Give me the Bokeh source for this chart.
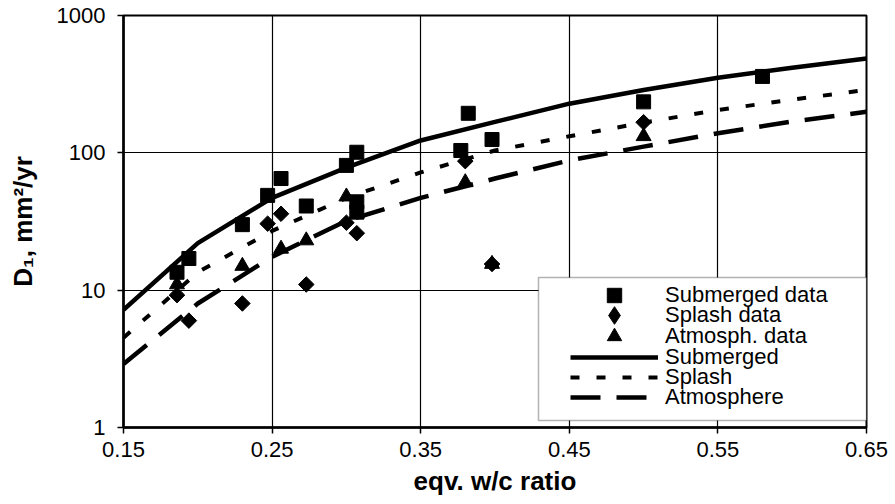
from bokeh.plotting import figure
from bokeh.models import (Range1d, FixedTicker, Legend, LegendItem, BoxAnnotation)
from bokeh.embed import file_html
from bokeh.resources import INLINE
import math

# ---- data ----
wc_curve = [0.15, 0.20, 0.25, 0.30, 0.35, 0.40, 0.45, 0.50, 0.55, 0.60, 0.65]
submerged_curve = [7.2, 22, 47, 78, 123, 168, 228, 287, 352, 417, 487]
splash_curve = [4.5, 13.5, 27, 47, 72, 104, 132, 166, 205, 244, 287]
atmos_curve = [2.9, 8.0, 17.5, 32, 47, 65, 88, 111, 139, 169, 199]

sub_x = [0.186, 0.194, 0.23, 0.247, 0.256, 0.273, 0.30, 0.307, 0.307, 0.307, 0.377, 0.382, 0.398, 0.50, 0.58]
sub_y = [13.5, 17, 30, 49, 65, 41, 81, 101, 44, 37, 104, 194, 125, 235, 360]

spl_x = [0.186, 0.194, 0.23, 0.247, 0.256, 0.273, 0.30, 0.307, 0.38, 0.398, 0.50]
spl_y = [9.2, 6.0, 8.0, 30.5, 36, 11, 31, 26, 87, 15.5, 167]

atm_x = [0.186, 0.23, 0.256, 0.273, 0.30, 0.307, 0.38, 0.398, 0.50]
atm_y = [11, 15, 20, 23, 48, 36, 61, 15.5, 132]

x_ticks = [0.15, 0.25, 0.35, 0.45, 0.55, 0.65]
y_ticks = [1, 10, 100, 1000]
y_tick_labels = ["1", "10", "100", "1000"]

legend_labels = ["Submerged data", "Splash data", "Atmosph. data",
                 "Submerged", "Splash", "Atmosphere"]

FONT = "Liberation Sans"

p = figure(width=892, height=500, x_range=Range1d(0.15, 0.65), y_range=Range1d(1, 1000),
           y_axis_type="log", output_backend="svg", toolbar_location=None,
           min_border_left=123, min_border_right=26, min_border_top=15, min_border_bottom=73)

p.background_fill_color = "white"
p.border_fill_color = "white"
p.outline_line_color = "black"
p.outline_line_width = 2

# axes
p.xaxis.ticker = FixedTicker(ticks=x_ticks)
p.yaxis.ticker = FixedTicker(ticks=y_ticks)
p.yaxis.major_label_overrides = {t: l for t, l in zip(y_ticks, y_tick_labels)}
p.xaxis.major_label_overrides = {t: ("%.2f" % t) for t in x_ticks}
for ax in (p.xaxis[0], p.yaxis[0]):
    ax.axis_line_color = "black"
    ax.axis_line_width = 2.5
    ax.major_tick_line_color = "black"
    ax.major_tick_line_width = 1.5
    ax.major_tick_out = 6
    ax.major_tick_in = 0
    ax.minor_tick_line_color = None
    ax.major_label_text_font = FONT
    ax.major_label_text_font_size = "22px"
    ax.major_label_text_color = "black"
    ax.axis_label_text_font = FONT
    ax.axis_label_text_font_style = "bold"
    ax.axis_label_text_font_size = "26px"
    ax.axis_label_text_color = "black"
p.xaxis.major_label_standoff = 8
p.yaxis.major_label_standoff = 12
p.xaxis.axis_label = "eqv. w/c ratio"
p.yaxis.axis_label = "D\u2081, mm\u00b2/yr"
p.xaxis.axis_label_standoff = 6
p.yaxis.axis_label_standoff = 16

# grid
p.xgrid.ticker = FixedTicker(ticks=x_ticks)
p.ygrid.ticker = FixedTicker(ticks=[10, 100])
p.xgrid.grid_line_color = "black"
p.ygrid.grid_line_color = "black"
p.xgrid.grid_line_width = 1.2
p.ygrid.grid_line_width = 1.2
p.ygrid.minor_grid_line_color = None

# curves
l_sub = p.line(wc_curve, submerged_curve, line_width=4.5, line_color="black")
l_spl = p.line(wc_curve, splash_curve, line_width=4, line_color="black", line_dash="9 17")
l_atm = p.line(wc_curve, atmos_curve, line_width=4.5, line_color="black", line_dash="30 16")

# data points
s_sub = p.scatter(sub_x, sub_y, marker="square", size=14, color="black")
s_spl = p.scatter(spl_x, spl_y, marker="square", angle=math.pi / 4, size=11, color="black")
s_atm = p.scatter(atm_x, atm_y, marker="triangle", size=15, color="black")
# hidden twin of the splash points, used only for the legend's diamond sample
s_spl_leg = p.scatter(spl_x, spl_y, marker="diamond", color="black", visible=False)

# legend box
box = BoxAnnotation(left=415, right=743, bottom=7, top=150,
                    left_units="screen", right_units="screen",
                    bottom_units="screen", top_units="screen",
                    fill_color="white", fill_alpha=1.0,
                    line_color="black", line_width=1.5)
p.add_layout(box)

# one legend per row so rows can be packed tightly with large sample markers
leg_renderers = [s_sub, s_spl_leg, s_atm, l_sub, l_spl, l_atm]
row_centres = [295, 315.5, 336, 356.5, 377, 397.5]   # screen px from top
glyph_heights = [36, 44, 36, 36, 36, 36]
frame_bottom = 427
for lab, rend, yc, gh in zip(legend_labels, leg_renderers, row_centres, glyph_heights):
    leg = Legend(items=[LegendItem(label=lab, renderers=[rend])],
                 location=(447, int(round(frame_bottom - (yc + gh / 2)))),
                 padding=0, spacing=0, margin=0, glyph_width=88, glyph_height=gh,
                 label_height=gh, label_standoff=7, label_text_font=FONT,
                 label_text_font_size="22px", label_text_color="black",
                 border_line_color=None, background_fill_alpha=0,
                 inactive_fill_alpha=0)
    p.add_layout(leg, "center")

open("out.html", "w").write(file_html(p, INLINE))
